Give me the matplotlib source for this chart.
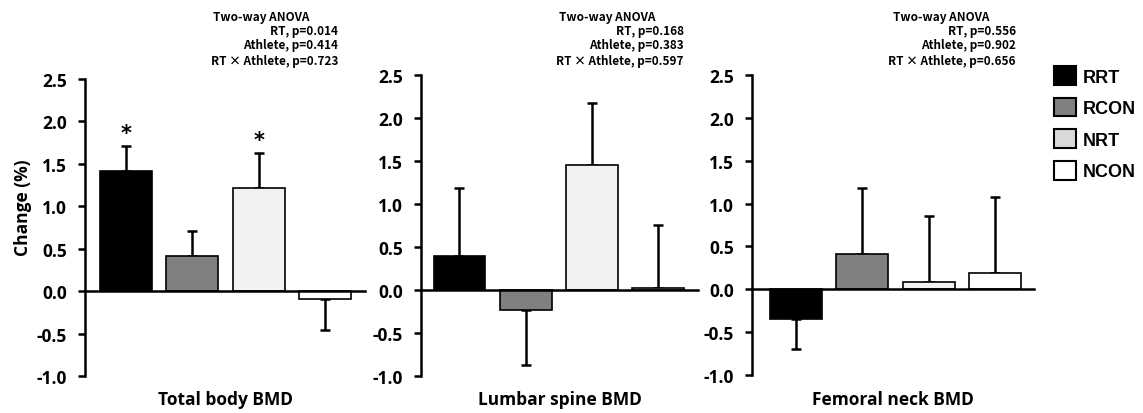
import matplotlib
matplotlib.use("Agg")
import matplotlib.pyplot as plt
from matplotlib.patches import Patch

groups = ["RRT", "RCON", "NRT", "NCON"]
bar_colors = ["#000000", "#808080", "#f2f2f2", "#ffffff"]
legend_colors = ["#000000", "#808080", "#d9d9d9", "#ffffff"]

panels = ["Total body BMD", "Lumbar spine BMD", "Femoral neck BMD"]
means = [
    [1.41, 0.41, 1.22, -0.09],
    [0.40, -0.23, 1.45, 0.02],
    [-0.35, 0.41, 0.08, 0.19],
]
sems = [
    [0.30, 0.30, 0.41, 0.37],
    [0.79, 0.64, 0.73, 0.74],
    [0.35, 0.77, 0.77, 0.89],
]
anova = [
    ["0.014", "0.414", "0.723"],
    ["0.168", "0.383", "0.597"],
    ["0.556", "0.902", "0.656"],
]
stars = [[True, False, True, False], [False] * 4, [False] * 4]

W, H = 1143, 414
fig = plt.figure(figsize=(W / 100, H / 100), dpi=100)

# axes boxes in pixels: left, right, top(2.5), bottom(-1.0)
boxes = [(85, 365, 80, 377), (421, 698, 76, 377), (752, 1034, 76, 376)]
xlims = [(-0.61, 3.6), (-0.58, 3.6), (-0.66, 3.58)]
# annotation block: left of title line, right of stat lines
ann_x = [(213, 338), (559, 684), (893, 1016)]

main_font = "Open Sans"
tick_font = {"family": main_font, "weight": "bold", "size": 12.5}

for i, name in enumerate(panels):
    l, r, t, b = boxes[i]
    ax = fig.add_axes([l / W, 1 - b / H, (r - l) / W, (b - t) / H])
    x = list(range(len(groups)))
    lower = [s if m < 0 else 0 for m, s in zip(means[i], sems[i])]
    upper = [s if m >= 0 else 0 for m, s in zip(means[i], sems[i])]
    ax.bar(x, means[i], width=0.78, color=bar_colors, edgecolor="black",
           linewidth=1.2, zorder=2)
    ax.errorbar(x, means[i], yerr=[lower, upper], fmt="none", ecolor="black",
                elinewidth=1.8, capsize=3.5, capthick=1.8, zorder=1)
    for j, st in enumerate(stars[i]):
        if st:
            ax.text(j, means[i][j] + sems[i][j] + 0.03, "*", ha="center",
                    va="bottom", fontsize=15, fontweight="bold")
    ax.set_xlim(*xlims[i])
    ax.set_ylim(-1.0, 2.5)
    ax.set_yticks([-1.0, -0.5, 0.0, 0.5, 1.0, 1.5, 2.0, 2.5])
    ax.set_yticklabels(["%.1f" % v for v in ax.get_yticks()], fontdict=tick_font)
    ax.set_xticks([])
    ax.spines["top"].set_visible(False)
    ax.spines["right"].set_visible(False)
    ax.spines["bottom"].set_position(("data", 0))
    ax.spines["left"].set_linewidth(1.8)
    ax.spines["bottom"].set_linewidth(1.8)
    ax.tick_params(axis="y", direction="out", length=5, width=1.8, pad=8)
    ax.set_facecolor("none")
    fig.text((l + r) / 2 / W, 1 - 400 / H, name, ha="center", va="center",
             fontsize=12.5, fontweight="bold", family=main_font)

    lx, rx = ann_x[i]
    afont = dict(fontsize=8.5, fontweight="bold",
                 family=["Noto Sans CJK JP", "DejaVu Sans"])
    fig.text(lx / W, 1 - 17 / H, "Two-way ANOVA", ha="left", va="center", **afont)
    fig.text(rx / W, 1 - 32 / H, "RT, p=" + anova[i][0], ha="right", va="center", **afont)
    fig.text(rx / W, 1 - 46 / H, "Athlete, p=" + anova[i][1], ha="right", va="center", **afont)
    fig.text(rx / W, 1 - 61 / H, "RT \u00d7 Athlete, p=" + anova[i][2], ha="right",
             va="center", **afont)

    if i == 0:
        ax.set_ylabel("Change (%)", fontsize=12.5, fontweight="bold", family=main_font)
        ax.yaxis.set_label_coords(-0.19, 0.57)

handles = [Patch(facecolor=c, edgecolor="black", linewidth=1.5) for c in legend_colors]
fig.legend(handles, groups, loc="upper left", bbox_to_anchor=(1047 / W, 1 - 60 / H),
           frameon=False, handlelength=1.2, handleheight=1.2, handletextpad=0.4,
           labelspacing=0.68, borderaxespad=0,
           prop={"family": "Liberation Sans", "weight": "bold", "size": 13})

fig.savefig("out.png", dpi=100)
